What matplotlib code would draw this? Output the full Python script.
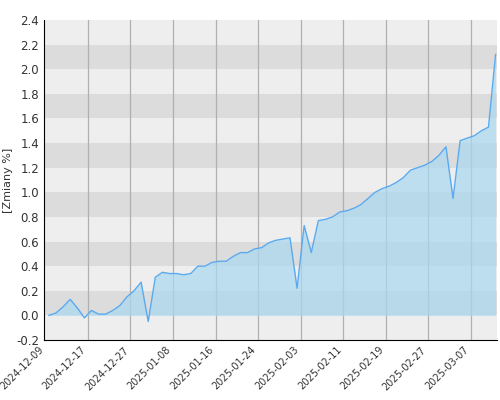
import matplotlib
matplotlib.use("Agg")
import matplotlib.pyplot as plt
import numpy as np

values = [0.0, 0.02, 0.07, 0.13, 0.06, -0.02, 0.04, 0.01, 0.01, 0.04,
          0.08, 0.15, 0.20, 0.27, -0.05, 0.31, 0.35, 0.34, 0.34, 0.33,
          0.34, 0.40, 0.40, 0.43, 0.44, 0.44, 0.48, 0.51, 0.51, 0.54,
          0.55, 0.59, 0.61, 0.62, 0.63, 0.22, 0.73, 0.51, 0.77, 0.78,
          0.80, 0.84, 0.85, 0.87, 0.90, 0.95, 1.00, 1.03, 1.05, 1.08,
          1.12, 1.18, 1.20, 1.22, 1.25, 1.30, 1.37, 0.95, 1.42, 1.44,
          1.46, 1.50, 1.53, 2.12]
tick_labels = ["2024-12-09", "2024-12-17", "2024-12-27", "2025-01-08", "2025-01-16",
               "2025-01-24", "2025-02-03", "2025-02-11", "2025-02-19", "2025-02-27",
               "2025-03-07"]
y_ticks = [-0.2, 0.0, 0.2, 0.4, 0.6, 0.8, 1.0, 1.2, 1.4, 1.6, 1.8, 2.0, 2.2, 2.4]

fig = plt.figure(figsize=(5, 4), dpi=100)
ax = fig.add_axes([0.088, 0.15, 0.906, 0.8])
x = np.arange(len(values))
ax.set_xlim(-0.7, len(values) - 0.8)
ax.set_ylim(-0.2, 2.4)
ax.set_facecolor("#eeeeee")
for lo in [0.0, 0.4, 0.8, 1.2, 1.6, 2.0]:
    ax.axhspan(lo, lo + 0.2, color="#dcdcdc", zorder=0, lw=0)
tick_pos = [-0.5 + 6 * k for k in range(len(tick_labels))]
for t in tick_pos[1:]:
    ax.axvline(t, color="#b0b0b0", lw=0.9, zorder=1)
ax.fill_between(x, values, 0, color="#a8d8f0", alpha=0.7, zorder=2, lw=0)
ax.plot(x, values, color="#5aaaf0", lw=1.0, zorder=3)
ax.set_xticks(tick_pos)
ax.set_xticklabels(tick_labels, rotation=45, ha="right", fontsize=7, color="#333333")
ax.set_yticks(y_ticks)
ax.set_yticklabels([f"{v:.1f}" for v in y_ticks], fontsize=8.5, color="#333333")
ax.tick_params(length=0)
ax.set_ylabel("[Zmiany %]", fontsize=8, color="#333333", labelpad=2)
for s in ["top", "right"]:
    ax.spines[s].set_visible(False)
ax.spines["left"].set_color("#000000")
ax.spines["bottom"].set_color("#000000")
fig.savefig("out.png", dpi=100)
